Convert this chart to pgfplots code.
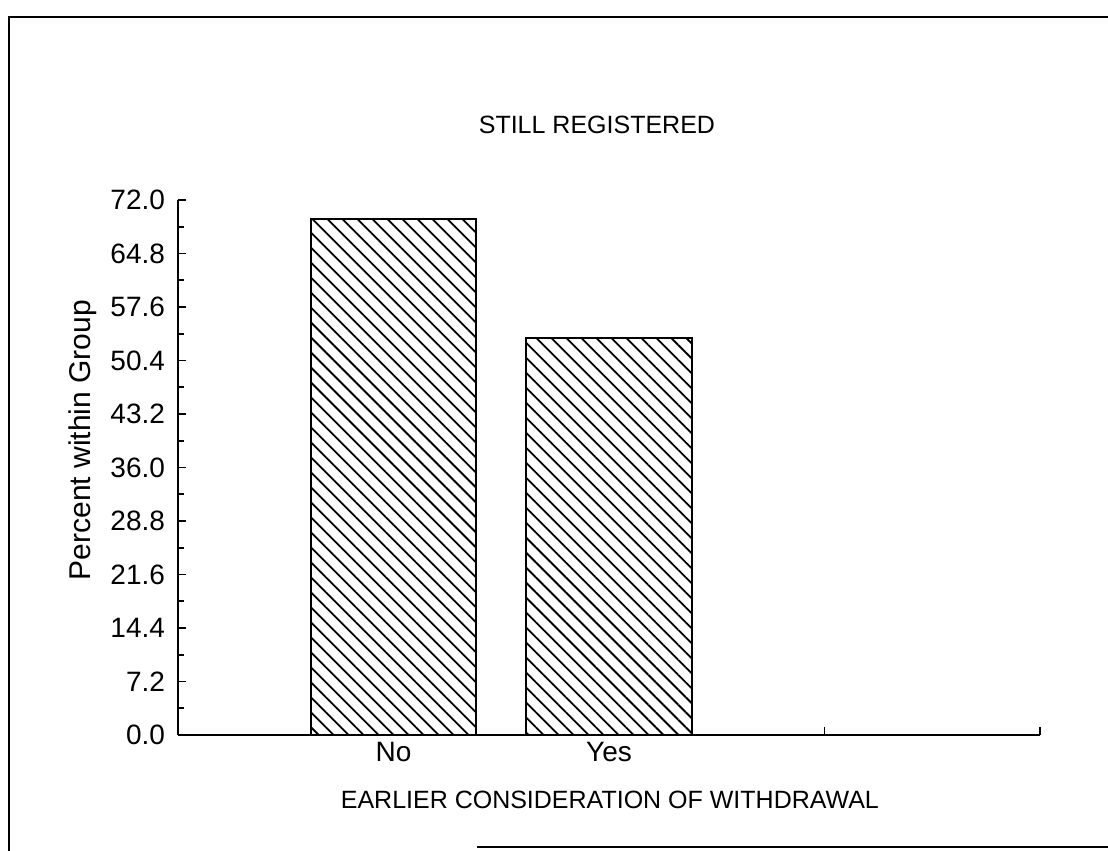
\documentclass[border=0pt]{standalone}
\usepackage{fontspec}
\setmainfont{Liberation Sans}
\usepackage{pgfplots}
\pgfplotsset{compat=1.18}
\usetikzlibrary{patterns.meta}
\pgfplotstableread{
x  y
1  69.5
2  53.4
}\datatable
\begin{document}
\begin{tikzpicture}[x=1pt,y=1pt]
\path[use as bounding box] (0,0) rectangle (554,425.5);
\draw[line width=1.2pt] (4.5,0) -- (4.5,417) -- (554,417);
\draw[line width=0.8pt] (238.5,2) -- (554,2);
\begin{axis}[
  at={(89pt,58pt)}, anchor=south west,
  scale only axis, width=431pt, height=267.5pt,
  xmin=0, xmax=4, ymin=0, ymax=72,
  axis lines=left,
  axis line style={-, line width=1pt},
  tick style={line width=0.8pt, black},
  tick align=inside,
  major tick length=4pt, minor tick length=3pt,
  xtick={1,2,3,4}, xticklabels={No,Yes,,},
  ytick={0,7.2,14.4,21.6,28.8,36,43.2,50.4,57.6,64.8,72},
  minor y tick num=1,
  /pgf/number format/assume math mode=true,
  yticklabel style={xshift=-3pt, /pgf/number format/.cd, fixed, fixed zerofill, precision=1},
  ticklabel style={font=\fontsize{14}{16}\selectfont},
  title={STILL REGISTERED},
  title style={at={(axis description cs:0.486,1.118)}, anchor=center, font=\fontsize{12.5}{14}\selectfont},
  xlabel={EARLIER CONSIDERATION OF WITHDRAWAL},
  xlabel style={at={(axis description cs:0.501,-0.121)}, anchor=center, font=\fontsize{12.5}{14}\selectfont},
  ylabel={Percent within Group},
  ylabel style={at={(axis description cs:-0.111,0.551)}, anchor=center, rotate=0, font=\fontsize{15}{17}\selectfont},
  clip=false,
]
\addplot[ybar, bar width=0.77, draw=black, line width=1pt, fill=white,
  postaction={pattern={Lines[angle=-45, distance=5.3pt, line width=0.9pt]}}]
  table[x=x, y=y] {\datatable};
\end{axis}
\end{tikzpicture}
\end{document}
